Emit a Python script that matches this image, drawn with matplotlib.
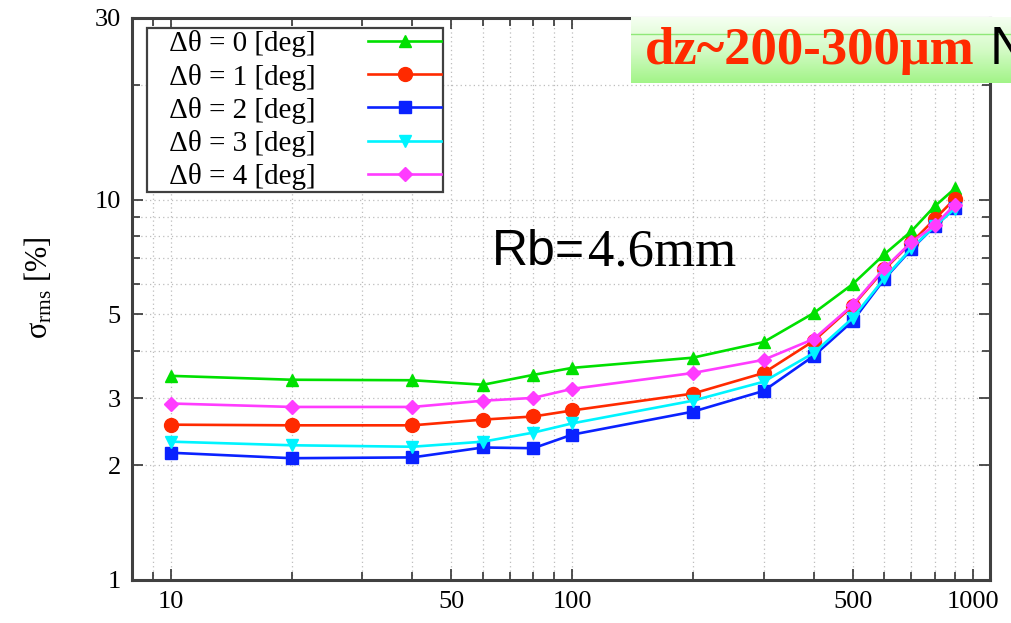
import numpy as np
import matplotlib
matplotlib.use("Agg")
import matplotlib.pyplot as plt
from matplotlib.ticker import FixedLocator, NullFormatter, FixedFormatter

plt.rcParams.update({
    "font.family": "serif",
    "font.serif": ["Liberation Serif", "DejaVu Serif"],
    "mathtext.fontset": "custom",
    "mathtext.rm": "Liberation Serif",
    "mathtext.it": "Liberation Serif:italic",
})

# sampled points along x (log scale)
x = [10, 20, 40, 60, 80, 100, 200, 300, 400, 500, 600, 700, 800, 900]

sigma_d0 = [3.44, 3.36, 3.35, 3.26, 3.46, 3.61, 3.84, 4.22, 5.03, 5.99, 7.18, 8.25, 9.59, 10.7]
sigma_d1 = [2.56, 2.55, 2.55, 2.64, 2.69, 2.79, 3.09, 3.50, 4.25, 5.25, 6.55, 7.70, 8.87, 10.06]
sigma_d2 = [2.16, 2.09, 2.10, 2.23, 2.22, 2.41, 2.77, 3.14, 3.88, 4.79, 6.18, 7.40, 8.50, 9.50]
sigma_d3 = [2.31, 2.26, 2.24, 2.31, 2.44, 2.58, 2.96, 3.32, 3.95, 4.88, 6.21, 7.44, 8.50, 9.47]
sigma_d4 = [2.91, 2.85, 2.85, 2.96, 3.01, 3.18, 3.50, 3.79, 4.30, 5.28, 6.60, 7.72, 8.55, 9.70]

labels = ["Δθ = 0 [deg]", "Δθ = 1 [deg]", "Δθ = 2 [deg]", "Δθ = 3 [deg]", "Δθ = 4 [deg]"]

xticks_major = [10, 50, 100, 500, 1000]
yticks_major = [1, 2, 3, 5, 10, 30]

fig = plt.figure(figsize=(10.11, 6.23), dpi=100)
ax = fig.add_axes([132 / 1011, 43 / 623, 858 / 1011, 562 / 623])

series = [
    (sigma_d0, "#00e000", "^", 9),
    (sigma_d1, "#ff2a00", "o", 10),
    (sigma_d2, "#0a22ff", "s", 9),
    (sigma_d3, "#00f4ff", "v", 9),
    (sigma_d4, "#ff3cff", "D", 7),
]
for (vals, col, mk, ms), lab in zip(series, labels):
    # leading spaces give the legend entries some room on the left
    ax.plot(x, vals, color=col, marker=mk, markersize=ms, linewidth=1.9, label="   " + lab)

ax.set_xscale("log")
ax.set_yscale("log")
ax.set_xlim(8, 1100)
ax.set_ylim(1, 30)

ax.xaxis.set_major_locator(FixedLocator(xticks_major))
ax.xaxis.set_major_formatter(FixedFormatter([str(v) for v in xticks_major]))
ax.xaxis.set_minor_locator(FixedLocator([9, 20, 30, 40, 60, 70, 80, 90,
                                         200, 300, 400, 600, 700, 800, 900]))
ax.xaxis.set_minor_formatter(NullFormatter())
ax.yaxis.set_major_locator(FixedLocator(yticks_major))
ax.yaxis.set_major_formatter(FixedFormatter([str(v) for v in yticks_major]))
ax.yaxis.set_minor_locator(FixedLocator([4, 6, 7, 8, 9, 20]))
ax.yaxis.set_minor_formatter(NullFormatter())

ax.tick_params(which="both", direction="in", top=True, right=True,
               width=1.2, color="#333333", labelsize=19, pad=8)
ax.tick_params(which="major", length=8)
ax.tick_params(which="minor", length=6)
for sp in ax.spines.values():
    sp.set_linewidth(2.2)
    sp.set_color("#404040")

ax.grid(True, which="both", linestyle=(0, (1, 2.5)), linewidth=0.9, color="#bdbdbd")

ax.set_ylabel(r"$\mathrm{σ}_{\mathrm{rms}}$ [%]", fontsize=22)
ax.yaxis.set_label_coords(-0.09, 0.52)

leg = ax.legend(loc="upper left", bbox_to_anchor=(0.017, 0.982), markerfirst=False,
                fontsize=21, handlelength=2.5, handletextpad=1.8, labelspacing=0.21,
                borderpad=0.08, borderaxespad=0, fancybox=False, framealpha=1,
                edgecolor="#404040")
leg.get_frame().set_linewidth(1.6)

# annotation inside the plot
fig.text(492 / 1011, 1 - 265 / 623, "Rb=", family="Liberation Sans", fontsize=36, va="baseline")
fig.text(588 / 1011, 1 - 265 / 623, "4.6mm", family="Liberation Serif", fontsize=38, va="baseline")

# banner at the top right
bax = fig.add_axes([631 / 1011, 1 - 83 / 623, 380 / 1011, 66 / 623])
grad = np.linspace(0, 1, 100)[:, None]
bax.imshow(grad, aspect="auto", cmap=matplotlib.colors.LinearSegmentedColormap.from_list(
    "banner", ["#f6fff2", "#d4fbc6", "#a2f488"]), extent=(0, 1, 1, 0))
bax.axhline(0.25, color="#8fe878", linewidth=1.0)
bax.set_axis_off()

fig.text(645 / 1011, 1 - 64 / 623, "dz~200-300μm", color="#ff2a00", fontweight="bold",
         family="Liberation Serif", fontsize=38, va="baseline")
fig.text(990 / 1011, 1 - 64 / 623, "N", color="black", family="Liberation Sans",
         fontsize=38, va="baseline")

fig.savefig("out.png", dpi=100)
